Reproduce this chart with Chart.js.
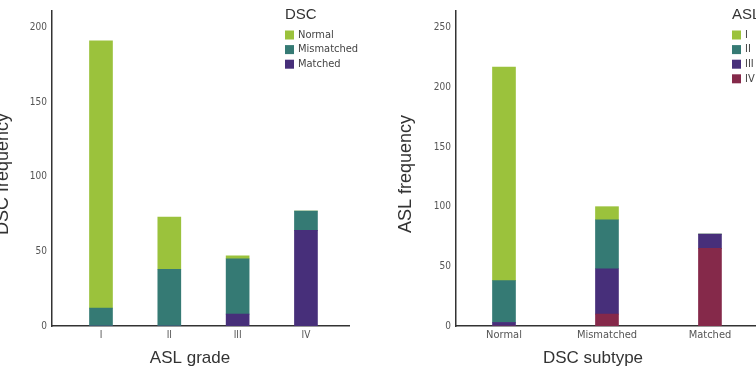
<!DOCTYPE html>
<html>
<head>
<meta charset="utf-8">
<script src="https://cdn.jsdelivr.net/npm/chart.js@4.4.0/dist/chart.umd.min.js"></script>
<style>
  body { margin: 0; background: #fff; overflow: hidden; }
  canvas { position: absolute; top: 0; }
</style>
</head>
<body>
<canvas id="gradeCanvas" width="378" height="368" style="left:0"></canvas>
<canvas id="subtypeCanvas" width="378" height="368" style="left:378px"></canvas>
<script>
// left chart: DSC subtype counts per ASL grade
var aslGrades = ["I", "II", "III", "IV"];
var dscNormal = [179, 35, 2, 0];
var dscMismatched = [12, 38, 37, 13];
var dscMatched = [0, 0, 8, 64];

// right chart: ASL grade counts per DSC subtype
var dscSubtypes = ["Normal", "Mismatched", "Matched"];
var aslI = [179, 11, 0];
var aslII = [35, 41, 0];
var aslIII = [3, 38, 12];
var aslIV = [0, 10, 65];

var GREEN = "#9bc23c", TEAL = "#357a74", PURPLE = "#472f7a", MAROON = "#85294a";
var narrow = "'Liberation Sans Narrow', 'DejaVu Sans Condensed', sans-serif";
var sans = "'Liberation Sans', Arial, sans-serif";

function points(values){
    return values.map(function(v, i){ return {x: i, y: v}; });
}

// legend + axis titles drawn by hand so they sit where the figure has them
var labelsPlugin = {
    id: "figLabels",
    afterDraw: function(chart, args, opts){
        var ctx = chart.ctx;
        ctx.save();
        ctx.fillStyle = "#333";
        ctx.font = "15px " + sans;
        ctx.textBaseline = "alphabetic";
        ctx.textAlign = "left";
        ctx.fillText(opts.legendTitle, opts.legendX, 19);
        var items = chart.data.datasets.slice().reverse();
        ctx.font = "11px " + narrow;
        ctx.textBaseline = "middle";
        items.forEach(function(ds, i){
            var y = 35 + i * 14.6;
            ctx.fillStyle = ds.backgroundColor;
            ctx.fillRect(opts.legendX, y - 4.5, 9, 9);
            ctx.fillStyle = "#444";
            ctx.fillText(ds.label, opts.legendX + 13, y);
        });
        ctx.fillStyle = "#333";
        ctx.font = "17px " + sans;
        ctx.textBaseline = "alphabetic";
        ctx.textAlign = "center";
        ctx.fillText(opts.xTitle, opts.xTitleX, 363);
        ctx.translate(opts.yTitleX, 174);
        ctx.rotate(-Math.PI / 2);
        ctx.font = "18px " + sans;
        ctx.fillText(opts.yTitle, 0, 0);
        ctx.restore();
    }
};

function makeOptions(cfg){
    return {
        responsive: false,
        animation: false,
        layout: { padding: { top: 9, right: cfg.padRight, left: 0, bottom: 0 } },
        plugins: {
            legend: { display: false },
            tooltip: { enabled: false },
            figLabels: cfg.labels
        },
        scales: {
            x: {
                type: "linear",
                stacked: true,
                offset: false,
                min: cfg.xMin,
                max: cfg.xMax,
                grid: { display: false, drawTicks: false, offset: false },
                border: { display: true, color: "#333", width: 1.5 },
                afterFit: function(scale){ scale.height = 42; },
                ticks: {
                    stepSize: 1,
                    includeBounds: false,
                    autoSkip: false,
                    maxRotation: 0,
                    padding: 3,
                    color: "#555",
                    font: { family: narrow, size: cfg.xTickSize },
                    callback: function(v){ return cfg.categories[v] !== undefined && Number.isInteger(v) ? cfg.categories[v] : ""; }
                }
            },
            y: {
                stacked: true,
                min: 0,
                max: cfg.yMax,
                grid: { display: false, drawTicks: false },
                border: { display: true, color: "#333", width: 1.5 },
                afterFit: function(scale){ scale.width = cfg.yWidth; },
                ticks: {
                    stepSize: 50,
                    includeBounds: false,
                    padding: 5,
                    color: "#555",
                    font: { family: narrow, size: 10 }
                }
            }
        }
    };
}

new Chart(document.getElementById("gradeCanvas"), {
    type: "bar",
    data: {
        datasets: [
            { label: "Matched", data: points(dscMatched), backgroundColor: PURPLE, barThickness: 23 },
            { label: "Mismatched", data: points(dscMismatched), backgroundColor: TEAL, barThickness: 23 },
            { label: "Normal", data: points(dscNormal), backgroundColor: GREEN, barThickness: 23 }
        ]
    },
    options: makeOptions({
        categories: aslGrades, xMin: -0.717, xMax: 3.63, yMax: 211, yWidth: 52, padRight: 29, xTickSize: 10,
        labels: { legendTitle: "DSC", legendX: 285, xTitle: "ASL grade", xTitleX: 190, yTitle: "DSC frequency", yTitleX: 8 }
    }),
    plugins: [labelsPlugin]
});

new Chart(document.getElementById("subtypeCanvas"), {
    type: "bar",
    data: {
        datasets: [
            { label: "IV", data: points(aslIV), backgroundColor: MAROON, barThickness: 23 },
            { label: "III", data: points(aslIII), backgroundColor: PURPLE, barThickness: 23 },
            { label: "II", data: points(aslII), backgroundColor: TEAL, barThickness: 23 },
            { label: "I", data: points(aslI), backgroundColor: GREEN, barThickness: 23 }
        ]
    },
    options: makeOptions({
        categories: dscSubtypes, xMin: -0.466, xMax: 2.447, yMax: 264, yWidth: 78, padRight: 0, xTickSize: 11,
        labels: { legendTitle: "ASL", legendX: 354, xTitle: "DSC subtype", xTitleX: 215, yTitle: "ASL frequency", yTitleX: 33 }
    }),
    plugins: [labelsPlugin]
});
</script>
</body>
</html>
